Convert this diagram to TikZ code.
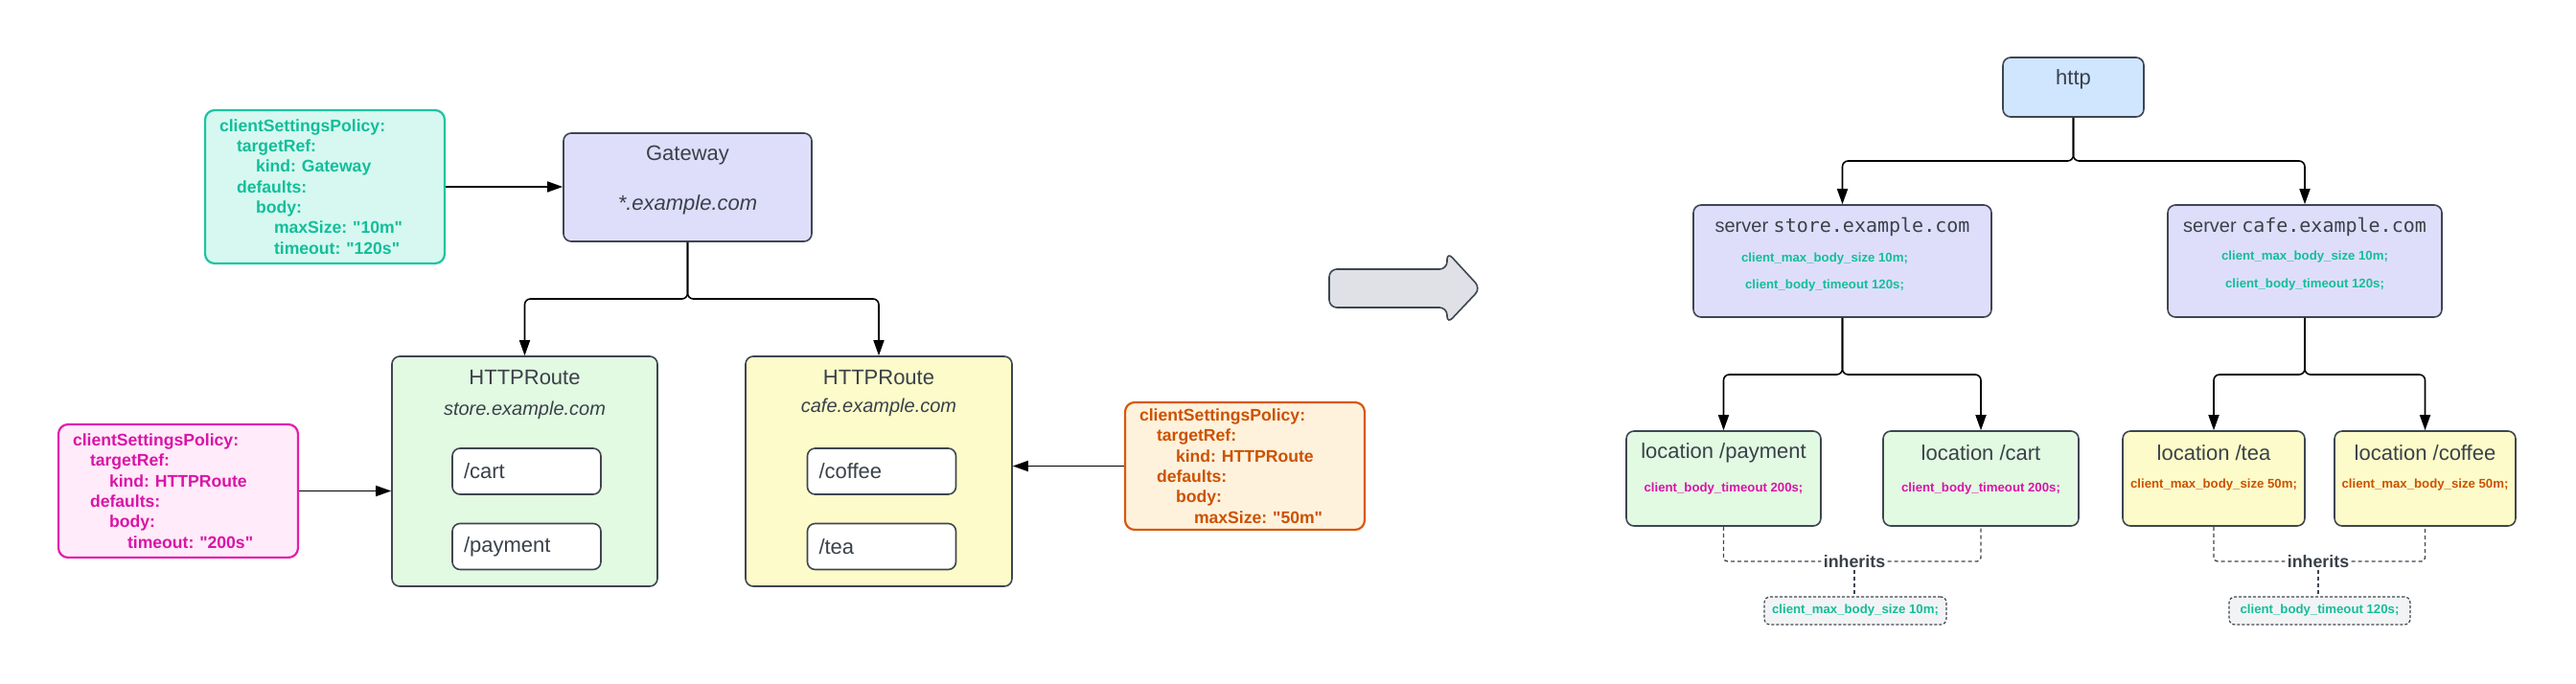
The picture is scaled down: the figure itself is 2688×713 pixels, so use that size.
\documentclass[tikz,border=0pt]{standalone}
\usepackage{fontspec}
\setmainfont{Liberation Sans}
\setmonofont{DejaVu Sans Mono}
\usetikzlibrary{arrows.meta,calc}
\definecolor{txt}{HTML}{3A414A}
\definecolor{edge}{HTML}{3F4650}
\definecolor{tealc}{HTML}{12BE9A}
\definecolor{tealfill}{HTML}{D6F8F1}
\definecolor{tealstroke}{HTML}{1DC4A2}
\definecolor{pinkc}{HTML}{D914A8}
\definecolor{pinkfill}{HTML}{FFEBF9}
\definecolor{pinkstroke}{HTML}{E01DB3}
\definecolor{orc}{HTML}{CC5200}
\definecolor{orfill}{HTML}{FEF2DD}
\definecolor{orstroke}{HTML}{D9580D}
\definecolor{lav}{HTML}{DEDEFB}
\definecolor{grn}{HTML}{E2F9E2}
\definecolor{yel}{HTML}{FCFBC9}
\definecolor{blu}{HTML}{D0E5FE}
\definecolor{gry}{HTML}{F2F3F5}
\definecolor{arrfill}{HTML}{DFE1E6}
\newcommand{\qq}{\textquotedbl}
\begin{document}
\frenchspacing
\begin{tikzpicture}[x=0.5pt,y=-0.5pt,
  box/.style={draw=edge, line width=0.8pt, rounded corners=4pt, inner sep=0pt},
  conn/.style={draw=black, line width=0.8pt, -{Triangle[length=8pt,width=5.5pt]}, rounded corners=3pt},
  dsh/.style={draw=edge, line width=0.7pt, dash pattern=on 2pt off 1.5pt},
  title/.style={text=txt, font=\fontsize{11}{13}\selectfont},
  subt/.style={text=txt, font=\fontsize{10}{12}\selectfont\itshape},
  cfg/.style={font=\fontsize{6.6}{8}\selectfont\bfseries},
  pol/.style={line width=1.1pt, rounded corners=5pt, align=left, text width=110pt,
    inner xsep=7.5pt, inner ysep=0pt, minimum width=125pt,
    font=\fontsize{8.8}{10.65}\selectfont\bfseries},
  pathbox/.style={box, fill=white, text width=65.5pt, inner xsep=6pt, align=left,
    minimum height=24pt, title},
  ibox/.style={draw=edge, line width=0.6pt, dash pattern=on 1.5pt off 1pt, rounded corners=3pt,
    fill=gry, minimum height=14.5pt, inner sep=0pt, cfg, text=tealc},
  inh/.style={text=txt, font=\fontsize{8.9}{10}\selectfont\bfseries, fill=white, inner sep=1pt}
]
\useasboundingbox (0,0) rectangle (2688,713);

% ---------------- left part ----------------
\node[pol, draw=tealstroke, fill=tealfill, text=tealc, minimum height=80pt] (tealpol) at (339,195) {%
clientSettingsPolicy:\\
\hspace*{9pt}targetRef:\\
\hspace*{19pt}kind: Gateway\\
\hspace*{9pt}defaults:\\
\hspace*{19pt}body:\\
\hspace*{28.5pt}maxSize: \qq10m\qq\\
\hspace*{28.5pt}timeout: \qq120s\qq};

\node[box, fill=lav, minimum width=129.5pt, minimum height=56.5pt] (gw) at (717.5,195.5) {};
\node[title] (gwt) at (717.5,162) {Gateway};
\node[title, font=\fontsize{11}{13}\selectfont\itshape] (gws) at (717.5,214) {*.example.com};

\node[box, fill=grn, minimum width=138.5pt, minimum height=120pt] (sr) at (547.5,492) {};
\node[title] (srt) at (547.5,394) {HTTPRoute};
\node[subt] (srs) at (547.5,428) {store.example.com};
\node[pathbox] (cart) at (549.5,492) {/cart};
\node[pathbox] (pay) at (549.5,570.5) {/payment};

\node[box, fill=yel, minimum width=139pt, minimum height=120pt] (cr) at (917,492) {};
\node[title] (crt) at (917,394) {HTTPRoute};
\node[subt] (crs) at (917,425) {cafe.example.com};
\node[pathbox] (coffee) at (920,492) {/coffee};
\node[pathbox] (tea) at (920,570.5) {/tea};

\node[pol, draw=pinkstroke, fill=pinkfill, text=pinkc, minimum height=69.5pt] (pinkpol) at (186,512.5) {%
clientSettingsPolicy:\\
\hspace*{9pt}targetRef:\\
\hspace*{19pt}kind: HTTPRoute\\
\hspace*{9pt}defaults:\\
\hspace*{19pt}body:\\
\hspace*{28.5pt}timeout: \qq200s\qq};

\node[pol, draw=orstroke, fill=orfill, text=orc, minimum height=66.5pt] (orpol) at (1299,486.5) {%
clientSettingsPolicy:\\
\hspace*{9pt}targetRef:\\
\hspace*{19pt}kind: HTTPRoute\\
\hspace*{9pt}defaults:\\
\hspace*{19pt}body:\\
\hspace*{28.5pt}maxSize: \qq50m\qq};

\draw[conn] (tealpol.east) -- (tealpol.east -| gw.west);
\draw[conn] (pinkpol.east) -- (pinkpol.east -| sr.west);
\draw[conn] (orpol.west) -- (orpol.west -| cr.east);
\coordinate (j0) at (717.5,312);
\draw[conn] (gw.south) -- (j0) -| (sr.north);
\draw[conn] (gw.south) -- (j0) -| (cr.north);

% ---------------- big arrow ----------------
\draw[draw=edge, line width=0.8pt, fill=arrfill, rounded corners=4pt]
  (1387,281) -- (1510,281) -- (1510,263) -- (1545,301) -- (1510,338) -- (1510,321) -- (1387,321) -- cycle;

% ---------------- right part ----------------
\node[box, fill=blu, minimum width=73.5pt, minimum height=31pt] (http) at (2163.5,91) {};
\node[title] (httpt) at (2163.5,83) {http};

\node[box, fill=lav, minimum width=155.5pt, minimum height=58.5pt] (ss) at (1922.5,272.5) {};
\node[text=txt, font=\fontsize{10}{12}\selectfont] (sst) at (1922.5,237) {server \texttt{store.example.com}};
\node[cfg, text=tealc] (ss1) at (1904,270) {client\_max\_body\_size 10m;};
\node[cfg, text=tealc] (ss2) at (1904,298) {client\_body\_timeout 120s;};

\node[box, fill=lav, minimum width=143pt, minimum height=58.5pt] (cs) at (2405,272.5) {};
\node[text=txt, font=\fontsize{10}{12}\selectfont] (cst) at (2405,237) {server \texttt{cafe.example.com}};
\node[cfg, text=tealc] (cs1) at (2405,268) {client\_max\_body\_size 10m;};
\node[cfg, text=tealc] (cs2) at (2405,297) {client\_body\_timeout 120s;};

\node[box, fill=grn, minimum width=101.5pt, minimum height=49.5pt] (lp) at (1798.5,499.5) {};
\node[title] (lpt) at (1798.5,473) {location /payment};
\node[cfg, text=pinkc] (lp1) at (1798.5,510) {client\_body\_timeout 200s;};

\node[box, fill=grn, minimum width=102pt, minimum height=49.5pt] (lc) at (2067,499.5) {};
\node[title] (lct) at (2067,473) {location /cart};
\node[cfg, text=pinkc] (lc1) at (2067,510) {client\_body\_timeout 200s;};

\node[box, fill=yel, minimum width=95pt, minimum height=49.5pt] (lt) at (2310,499.5) {};
\node[title] (ltt) at (2310,473) {location /tea};
\node[cfg, text=orc] (lt1) at (2310,506) {client\_max\_body\_size 50m;};

\node[box, fill=yel, minimum width=94.5pt, minimum height=49.5pt] (lf) at (2530.5,499.5) {};
\node[title] (lft) at (2530.5,473) {location /coffee};
\node[cfg, text=orc] (lf1) at (2530.5,506) {client\_max\_body\_size 50m;};

\coordinate (j1) at (2163.5,168);
\draw[conn] (http.south) -- (j1) -| (ss.north);
\draw[conn] (http.south) -- (j1) -| (cs.north);
\coordinate (j2) at (1922.5,391);
\draw[conn] (ss.south) -- (j2) -| (lp.north);
\draw[conn] (ss.south) -- (j2) -| (lc.north);
\coordinate (j3) at (2405,391);
\draw[conn] (cs.south) -- (j3) -| (lt.north);
\draw[conn] (cs.south) -- (j3) -| (lf.north);

% inherits
\node[inh] (ih1) at (1935,586) {inherits};
\node[ibox, minimum width=95pt] (ib1) at (1936,637.5) {client\_max\_body\_size 10m;};
\draw[dsh, rounded corners=2pt] (lp.south) |- (ih1.west);
\draw[dsh, rounded corners=2pt] (ih1.east) -| (lc.south);
\draw[dsh] (ih1.south) -- (ih1.south |- ib1.north);

\node[inh] (ih2) at (2419,586) {inherits};
\node[ibox, minimum width=94.5pt] (ib2) at (2420.5,637.5) {client\_body\_timeout 120s;};
\draw[dsh, rounded corners=2pt] (lt.south) |- (ih2.west);
\draw[dsh, rounded corners=2pt] (ih2.east) -| (lf.south);
\draw[dsh] (ih2.south) -- (ih2.south |- ib2.north);
\end{tikzpicture}
\end{document}
